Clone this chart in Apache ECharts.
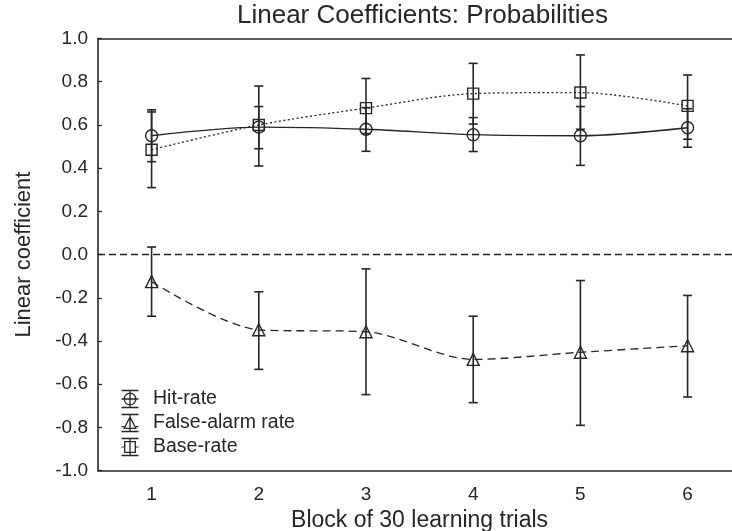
<!DOCTYPE html>
<html>
<head>
<meta charset="utf-8">
<script src="https://cdn.jsdelivr.net/npm/echarts@6/dist/echarts.min.js"></script>
<style>
  html, body { margin: 0; padding: 0; background: #fff; }
  #chart { width: 732px; height: 531px; }
</style>
</head>
<body>
<div id="chart"></div>
<script>
// Blocks of 30 learning trials
const blocks = ['1', '2', '3', '4', '5', '6'];

// Hit-rate coefficient: mean and error-bar limits
const hitMean = [0.55, 0.59, 0.58, 0.555, 0.55, 0.587];
const hitLow  = [0.43, 0.49, 0.478, 0.477, 0.413, 0.497];
const hitHigh = [0.67, 0.685, 0.68, 0.634, 0.685, 0.675];

// False-alarm rate coefficient
const faMean = [-0.125, -0.348, -0.357, -0.485, -0.452, -0.422];
const faLow  = [-0.285, -0.531, -0.648, -0.685, -0.79, -0.659];
const faHigh = [0.035, -0.172, -0.066, -0.285, -0.12, -0.189];

// Base-rate coefficient
const baseMean = [0.485, 0.60, 0.678, 0.745, 0.75, 0.688];
const baseLow  = [0.31, 0.41, 0.56, 0.604, 0.58, 0.534];
const baseHigh = [0.66, 0.78, 0.815, 0.885, 0.924, 0.831];

const yTicks = { min: -1, max: 1, step: 0.2 };

const INK = '#262626';
const FONT = "'Liberation Sans', Arial, Helvetica, sans-serif";

function rangeData(low, high) {
  return low.map((lo, i) => [i, lo, high[i]]);
}

function renderErrorBar(params, api) {
  const i = api.value(0);
  const lo = api.coord([i, api.value(1)]);
  const hi = api.coord([i, api.value(2)]);
  const half = 4.5;
  const style = { stroke: INK, lineWidth: 1.6, fill: null };
  return {
    type: 'group',
    children: [
      { type: 'line', shape: { x1: hi[0], y1: hi[1], x2: lo[0], y2: lo[1] }, style },
      { type: 'line', shape: { x1: hi[0] - half, y1: hi[1], x2: hi[0] + half, y2: hi[1] }, style },
      { type: 'line', shape: { x1: lo[0] - half, y1: lo[1], x2: lo[0] + half, y2: lo[1] }, style }
    ]
  };
}

function errorSeries(low, high) {
  return {
    type: 'custom',
    renderItem: renderErrorBar,
    data: rangeData(low, high),
    encode: { x: 0, y: [1, 2] },
    silent: true,
    z: 2
  };
}

function lineSeries(name, values, symbol, size, dash) {
  return {
    name,
    type: 'line',
    data: values,
    smooth: 0.3,
    symbol,
    symbolSize: size,
    showSymbol: true,
    itemStyle: { color: 'rgba(0,0,0,0)', borderColor: INK, borderWidth: 1.4 },
    lineStyle: { color: INK, width: 1.3, type: dash },
    emphasis: { disabled: true },
    z: 3
  };
}

// Legend glyphs: error bar with caps, the marker, and a bit of the line style
const capsPath = 'M0,0.5H16M0,16.5H16M8,0.5V16.5';
const hitIcon = 'path://' + capsPath +
  'M13.5,8.5A5.5,5.5,0,1,1,2.5,8.5A5.5,5.5,0,1,1,13.5,8.5M0,8.5H16';
const faIcon = 'path://' + capsPath +
  'M8,3L13.5,13.5L2.5,13.5ZM0,12H2.5M13.5,12H16';
const baseIcon = 'path://' + capsPath +
  'M3,3.5H13V13.5H3ZM0,8.5H1M1.8,8.5H2.6M13.4,8.5H14.2M15,8.5H16';

const legendItemStyle = { color: 'none', borderColor: INK, borderWidth: 1.3 };

const chart = echarts.init(document.getElementById('chart'), null, { renderer: 'canvas' });

chart.setOption({
  animation: false,
  backgroundColor: '#ffffff',
  textStyle: { fontFamily: FONT, color: INK },
  title: {
    text: 'Linear Coefficients: Probabilities',
    left: 237,
    top: 3,
    padding: 0,
    textStyle: { fontFamily: FONT, fontSize: 26, fontWeight: 'normal', color: INK }
  },
  legend: {
    orient: 'vertical',
    left: 119,
    top: 388,
    padding: 0,
    itemWidth: 36,
    itemHeight: 17,
    itemGap: 2,
    selectedMode: false,
    textStyle: { fontFamily: FONT, fontSize: 19.5, color: INK },
    data: [
      { name: 'Hit-rate', icon: hitIcon, itemStyle: legendItemStyle },
      { name: 'False-alarm rate', icon: faIcon, itemStyle: legendItemStyle },
      { name: 'Base-rate', icon: baseIcon, itemStyle: legendItemStyle }
    ]
  },
  grid: {
    left: 98, top: 38.5, width: 643.2, bottom: 60.3,
    containLabel: false,
    outerBoundsMode: 'none'
  },
  xAxis: [
    {
      type: 'category',
      data: blocks,
      boundaryGap: true,
      position: 'bottom',
      name: 'Block of 30 learning trials',
      nameLocation: 'middle',
      nameGap: 36,
      nameTextStyle: { fontFamily: FONT, fontSize: 23, color: INK },
      axisLine: { onZero: false, lineStyle: { color: INK, width: 1.6 } },
      axisTick: { alignWithLabel: true, inside: true, length: 4, lineStyle: { color: INK, width: 1.3 } },
      axisLabel: { fontFamily: FONT, fontSize: 19, color: INK, margin: 15 },
      splitLine: { show: false }
    },
    {
      type: 'category',
      data: blocks,
      boundaryGap: true,
      position: 'top',
      axisLine: { onZero: false, lineStyle: { color: INK, width: 1.6 } },
      axisTick: { alignWithLabel: true, inside: true, length: 4, lineStyle: { color: INK, width: 1.3 } },
      axisLabel: { show: false },
      splitLine: { show: false }
    }
  ],
  yAxis: {
    type: 'value',
    min: yTicks.min,
    max: yTicks.max,
    interval: yTicks.step,
    name: 'Linear coefficient',
    nameLocation: 'middle',
    nameRotate: 90,
    nameGap: 63,
    nameTextStyle: { fontFamily: FONT, fontSize: 22, color: INK },
    axisLine: { show: true, onZero: false, lineStyle: { color: INK, width: 1.6 } },
    axisTick: { show: true, inside: true, length: 4, lineStyle: { color: INK, width: 1.3 } },
    axisLabel: {
      fontFamily: FONT, fontSize: 19, color: INK, margin: 10,
      formatter: v => v.toFixed(1)
    },
    splitLine: { show: false }
  },
  series: [
    errorSeries(hitLow, hitHigh),
    errorSeries(faLow, faHigh),
    errorSeries(baseLow, baseHigh),
    lineSeries('Hit-rate', hitMean, 'circle', 12, 'solid'),
    Object.assign(lineSeries('False-alarm rate', faMean, 'triangle', 12, [8, 5]), {
      markLine: {
        silent: true,
        symbol: ['none', 'none'],
        label: { show: false },
        lineStyle: { color: INK, width: 1.4, type: [7, 4] },
        data: [{ yAxis: 0 }]
      }
    }),
    lineSeries('Base-rate', baseMean, 'rect', 11, [2, 2.5])
  ]
});
</script>
</body>
</html>
